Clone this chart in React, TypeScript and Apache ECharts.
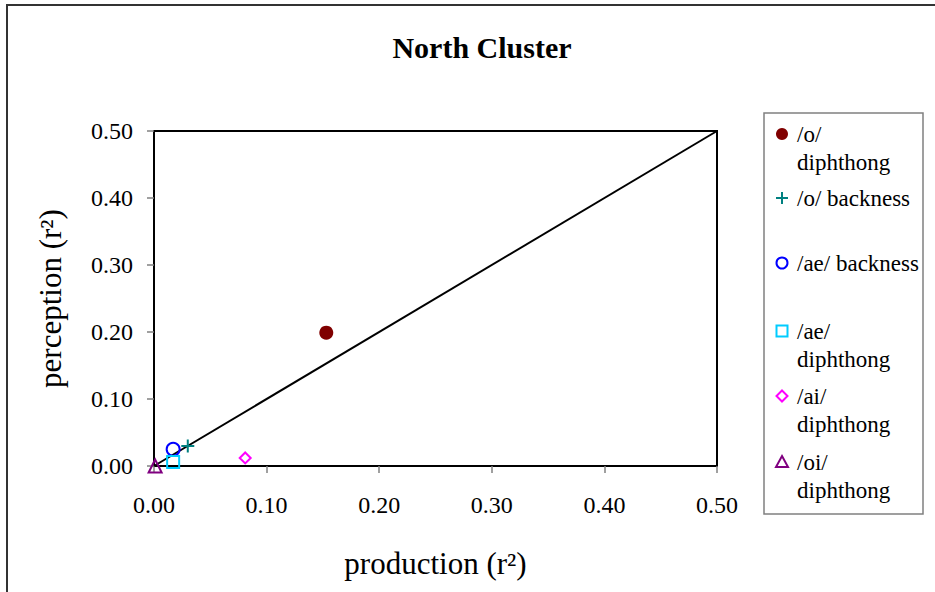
import React, { useEffect, useRef } from "react";
import * as echarts from "echarts";

const seriesNames = ["/o/ diphthong", "/o/ backness", "/ae/ backness", "/ae/ diphthong", "/ai/ diphthong", "/oi/ diphthong"];
const legendLines = [["/o/", "diphthong"], ["/o/ backness"], ["/ae/ backness"], ["/ae/", "diphthong"], ["/ai/", "diphthong"], ["/oi/", "diphthong"]];
const productionR2 = [0.153, 0.03, 0.017, 0.017, 0.081, 0.001];
const perceptionR2 = [0.199, 0.03, 0.025, 0.006, 0.012, 0.0];
const identityLine = [[0, 0], [0.5, 0.5]];
const axisMin = 0;
const axisMax = 0.5;
const axisStep = 0.1;

const FONT = "'Liberation Serif', 'Times New Roman', serif";
const colors = ["#800000", "#008080", "#0000FF", "#00CCFF", "#FF00FF", "#800080"];
const plusPath = "path://M5,0 L5,10 M0,5 L10,5";
const symbols = ["circle", plusPath, "circle", "rect", "diamond", "triangle"];
const symbolSizes = [14, 13, 13, 12, 11, 13];
const filled = [true, false, false, false, false, false];
const legendTops = [134, 198, 263, 331, 396, 462];

export default function App() {
  const ref = useRef<HTMLDivElement>(null);
  useEffect(() => {
    const chart = echarts.init(ref.current!, null, { renderer: "svg" });
    const scatter = seriesNames.map((name, i) => ({
      name,
      type: "scatter",
      data: [[productionR2[i], perceptionR2[i]]],
      symbol: symbols[i],
      symbolSize: symbolSizes[i],
      z: 5,
      itemStyle: filled[i]
        ? { color: colors[i], opacity: 1 }
        : { color: "rgba(0,0,0,0)", borderColor: colors[i], borderWidth: 2, opacity: 1 },
    }));

    const legendGraphics: any[] = [
      {
        type: "rect",
        shape: { x: 764, y: 113, width: 159, height: 401 },
        style: { fill: "#fff", stroke: "#808080", lineWidth: 1.5 },
      },
    ];
    seriesNames.forEach((_, i) => {
      const cy = legendTops[i];
      const cx = 782;
      const stroke = { stroke: colors[i], lineWidth: 2, fill: "none" };
      if (i === 0) legendGraphics.push({ type: "circle", shape: { cx, cy, r: 6 }, style: { fill: colors[i] } });
      if (i === 1) {
        legendGraphics.push({ type: "line", shape: { x1: cx - 6, y1: cy, x2: cx + 6, y2: cy }, style: stroke });
        legendGraphics.push({ type: "line", shape: { x1: cx, y1: cy - 6, x2: cx, y2: cy + 6 }, style: stroke });
      }
      if (i === 2) legendGraphics.push({ type: "circle", shape: { cx, cy, r: 5.5 }, style: stroke });
      if (i === 3) legendGraphics.push({ type: "rect", shape: { x: cx - 5.5, y: cy - 5.5, width: 11, height: 11 }, style: stroke });
      if (i === 4) legendGraphics.push({ type: "polygon", shape: { points: [[cx, cy - 5.5], [cx + 5.5, cy], [cx, cy + 5.5], [cx - 5.5, cy]] }, style: stroke });
      if (i === 5) legendGraphics.push({ type: "polygon", shape: { points: [[cx, cy - 6], [cx + 6, cy + 5], [cx - 6, cy + 5]] }, style: stroke });
      legendLines[i].forEach((line, j) => {
        legendGraphics.push({
          type: "text",
          x: 797,
          y: cy + j * 28,
          style: { text: line, font: `23px ${FONT}`, fill: "#000", verticalAlign: "middle" },
        });
      });
    });

    chart.setOption({
      animation: false,
      backgroundColor: "#fff",
      title: {
        text: "North Cluster",
        left: 477,
        top: 27,
        textAlign: "center",
        textStyle: { fontFamily: FONT, fontSize: 30, fontWeight: "bold", color: "#000" },
      },
      grid: {
        left: 154,
        top: 131,
        width: 563,
        height: 335,
        show: true,
        borderColor: "#000",
        borderWidth: 2,
        backgroundColor: "#fff",
      },
      xAxis: {
        type: "value",
        min: axisMin,
        max: axisMax,
        interval: axisStep,
        name: "production (r²)",
        nameLocation: "middle",
        nameGap: 82,
        nameTextStyle: { fontFamily: FONT, fontSize: 31, color: "#000" },
        axisLine: { show: true, onZero: false, lineStyle: { color: "#000", width: 2 } },
        axisTick: { show: true, inside: false, length: 7, lineStyle: { color: "#808080", width: 1.5 } },
        axisLabel: { fontFamily: FONT, fontSize: 24, color: "#000", margin: 27, formatter: (v: number) => v.toFixed(2) },
        splitLine: { show: false },
      },
      yAxis: {
        type: "value",
        min: axisMin,
        max: axisMax,
        interval: axisStep,
        name: "perception (r²)",
        nameLocation: "middle",
        nameGap: 88,
        nameTextStyle: { fontFamily: FONT, fontSize: 31, color: "#000" },
        axisLine: { show: true, onZero: false, lineStyle: { color: "#000", width: 2 } },
        axisTick: { show: true, inside: false, length: 7, lineStyle: { color: "#808080", width: 1.5 } },
        axisLabel: { fontFamily: FONT, fontSize: 24, color: "#000", margin: 21, formatter: (v: number) => v.toFixed(2) },
        splitLine: { show: false },
      },
      series: [
        {
          name: "identity",
          type: "line",
          data: identityLine,
          showSymbol: false,
          symbol: "none",
          z: 3,
          lineStyle: { color: "#000", width: 2 },
        },
        ...scatter,
      ],
      graphic: [
        {
          type: "rect",
          z: -10,
          silent: true,
          shape: { x: 7, y: 5, width: 1200, height: 1000 },
          style: { fill: "none", stroke: "#333", lineWidth: 2 },
        },
        ...legendGraphics,
      ],
    });
    return () => chart.dispose();
  }, []);
  return <div ref={ref} style={{ position: "fixed", left: 0, top: 0, width: 935, height: 592 }} />;
}
